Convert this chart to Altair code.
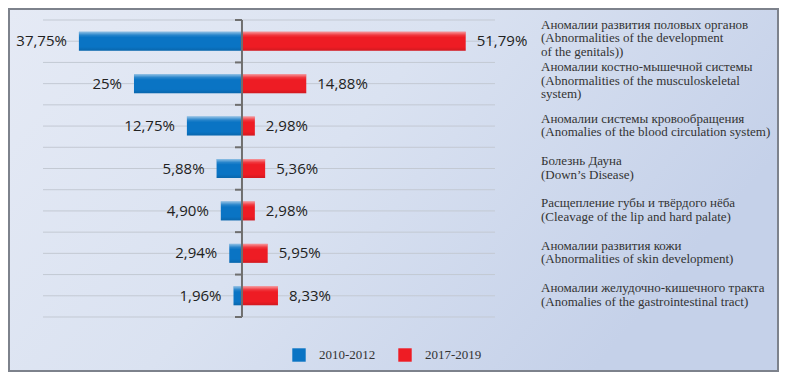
import altair as alt
import pandas as pd

categories = [
    "Аномалии развития половых органов\n(Abnormalities of the development\nof the genitals))",
    "Аномалии костно-мышечной системы\n(Abnormalities of the musculoskeletal\nsystem)",
    "Аномалии системы кровообращения\n(Anomalies of the blood circulation system)",
    "Болезнь Дауна\n(Down’s Disease)",
    "Расщепление губы и твёрдого нёба\n(Cleavage of the lip and hard palate)",
    "Аномалии развития кожи\n(Abnormalities of skin development)",
    "Аномалии желудочно-кишечного тракта\n(Anomalies of the gastrointestinal tract)",
]
periods = ["2010-2012", "2017-2019"]
values_2010_2012 = [37.75, 25, 12.75, 5.88, 4.90, 2.94, 1.96]
values_2017_2019 = [51.79, 14.88, 2.98, 5.36, 2.98, 5.95, 8.33]
period_colors = ["#0a74c4", "#ee1c24"]


def fmt(v):
    if float(v).is_integer():
        return f"{int(v)}%"
    return f"{v:.2f}".replace(".", ",") + "%"


rows = []
for i, (a, b) in enumerate(zip(values_2010_2012, values_2017_2019)):
    rows.append({"row": i, "period": periods[0], "start": -a, "end": 0, "label": fmt(a)})
    rows.append({"row": i, "period": periods[1], "start": 0, "end": b, "label": fmt(b)})
bars_df = pd.DataFrame(rows)
cat_df = pd.DataFrame({"row": list(range(len(categories))), "cat": categories,
                       "nlines": [c.count("\n") + 1 for c in categories]})
n = len(categories)
grid_df = pd.DataFrame({"g": [k * 0.5 - 0.5 for k in range(2 * n + 1)]})
tick_df = pd.DataFrame({"b": [k - 0.5 for k in range(n + 1)], "zero": 0})
axis_df = pd.DataFrame({"zero": [0], "lo": [-0.5], "hi": [n - 0.5]})
bg_df = pd.DataFrame({"a": [0]})

xscale = alt.Scale(domain=[-46.06, 58.57], nice=False, zero=False)
yscale = alt.Scale(domain=[-0.5, n - 0.5], reverse=True, nice=False, zero=False)

bg = alt.Chart(bg_df).mark_rect(
    fill=alt.Gradient(
        gradient="linear",
        stops=[alt.GradientStop(color="#e5eaf5", offset=0),
               alt.GradientStop(color="#dae2f1", offset=0.5),
               alt.GradientStop(color="#c5d1e9", offset=1)],
        x1=0, x2=1, y1=0, y2=0.4),
    stroke="#7d828c", strokeWidth=2,
).encode(x=alt.value(-34), x2=alt.value(735), y=alt.value(-6), y2=alt.value(356))

grid = alt.Chart(grid_df).mark_rule(color="#c3c9d3", strokeWidth=1).encode(
    y=alt.Y("g:Q", scale=yscale, axis=None)
)

bars = alt.Chart(bars_df).mark_bar(size=19, orient="horizontal").encode(
    x=alt.X("start:Q", scale=xscale, axis=None),
    x2="end:Q",
    y=alt.Y("row:Q", scale=yscale, axis=None),
    color=alt.Color("period:N", scale=alt.Scale(domain=periods, range=period_colors),
                    legend=alt.Legend(orient="none", legendX=249, legendY=333,
                                      direction="horizontal", title=None,
                                      symbolType="square", symbolSize=180,
                                      symbolStrokeWidth=0, symbolOpacity=1,
                                      labelFont="Liberation Serif", labelFontSize=13,
                                      labelColor="#333333", columnPadding=22,
                                      labelOffset=13, padding=0)),
)

shade = alt.Chart(bars_df).mark_bar(
    size=19, orient="horizontal",
    fill=alt.Gradient(
        gradient="linear",
        stops=[alt.GradientStop(color="rgba(255,255,255,0.55)", offset=0),
               alt.GradientStop(color="rgba(255,255,255,0.12)", offset=0.18),
               alt.GradientStop(color="rgba(255,255,255,0)", offset=0.3),
               alt.GradientStop(color="rgba(0,0,0,0)", offset=0.8),
               alt.GradientStop(color="rgba(0,0,0,0.12)", offset=1)],
        x1=0, x2=0, y1=0, y2=1),
).encode(x=alt.X("start:Q", scale=xscale, axis=None), x2="end:Q",
         y=alt.Y("row:Q", scale=yscale, axis=None))

axis_line = alt.Chart(axis_df).mark_rule(color="#6f6f6f", strokeWidth=2).encode(
    x=alt.X("zero:Q", scale=xscale, axis=None),
    y=alt.Y("lo:Q", scale=yscale, axis=None),
    y2="hi:Q",
)

axis_ticks = alt.Chart(tick_df).mark_rule(color="#6f6f6f", strokeWidth=2, x2Offset=-7).encode(
    x=alt.X("zero:Q", scale=xscale, axis=None),
    x2="zero:Q",
    y=alt.Y("b:Q", scale=yscale, axis=None),
)

left_labels = alt.Chart(bars_df).transform_filter(
    alt.datum.period == periods[0]
).mark_text(align="right", baseline="middle", dx=-12, font="Open Sans",
            fontSize=15, color="#222222").encode(
    x=alt.X("start:Q", scale=xscale, axis=None),
    y=alt.Y("row:Q", scale=yscale, axis=None),
    text="label:N",
)

right_labels = alt.Chart(bars_df).transform_filter(
    alt.datum.period == periods[1]
).mark_text(align="left", baseline="middle", dx=11, font="Open Sans",
            fontSize=15, color="#222222").encode(
    x=alt.X("end:Q", scale=xscale, axis=None),
    y=alt.Y("row:Q", scale=yscale, axis=None),
    text="label:N",
)


def cat_layer(nl, dy):
    return alt.Chart(cat_df).transform_filter(alt.datum.nlines == nl).mark_text(
        align="left", baseline="middle", lineBreak="\n", font="Liberation Serif",
        fontSize=13, lineHeight=13.5, color="#333333", dy=dy,
    ).encode(
        x=alt.value(498),
        y=alt.Y("row:Q", scale=yscale, axis=None),
        text="cat:N",
    )


chart = alt.layer(bg, grid, bars, shade, axis_line, axis_ticks, left_labels, right_labels,
                  cat_layer(2, -7.5), cat_layer(3, -16.5)).properties(
    width=452, height=307,
    padding={"left": 35, "top": 7, "right": 284, "bottom": 50},
    autosize="none",
).configure_view(stroke=None)

chart.save("out.html", embed_options={"renderer": "svg", "actions": False})
